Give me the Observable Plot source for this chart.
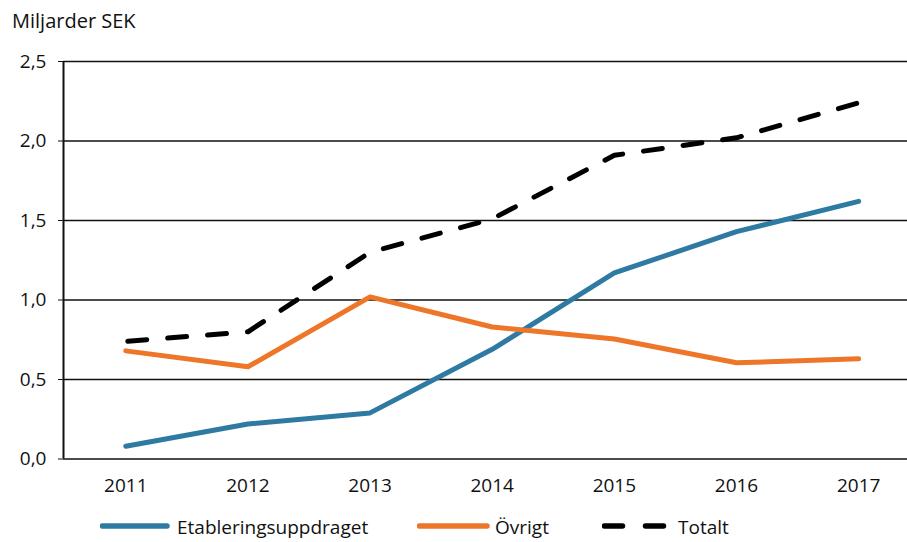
<!DOCTYPE html>
<html><head><meta charset="utf-8">
<script src="https://cdn.jsdelivr.net/npm/d3@7"></script>
<script src="https://cdn.jsdelivr.net/npm/@observablehq/plot@0.6"></script>
<style>
body{margin:0;background:#fff;font-family:"Open Sans",sans-serif;}
#wrap{position:relative;width:907px;height:542px;overflow:hidden;}
#title{height:45px;font-size:20px;color:#111;padding-left:12px;line-height:1;box-sizing:border-box;padding-top:11px;}
#legend{position:absolute;left:0;top:505px;width:907px;height:37px;font-size:19px;color:#111;}
.item{position:absolute;top:0;height:37px;}
.item svg{position:absolute;top:0;left:0;}
.item span{position:absolute;top:9px;white-space:nowrap;}
</style></head>
<body><div id="wrap"><div id="title">Miljarder SEK</div><div id="chart"></div><div id="legend"></div></div>
<script>
const years = [2011, 2012, 2013, 2014, 2015, 2016, 2017];
const etablering = [0.08, 0.22, 0.29, 0.69, 1.17, 1.43, 1.62];
const ovrigt = [0.68, 0.58, 1.02, 0.83, 0.755, 0.605, 0.63];
const totalt = [0.74, 0.80, 1.30, 1.51, 1.91, 2.02, 2.24];
const yTicks = [0, 0.5, 1.0, 1.5, 2.0, 2.5];
const seriesNames = ["Etableringsuppdraget", "Övrigt", "Totalt"];
const colors = ["#2e7aa3", "#ee7628", "#000000"];

const rows = (vals) => years.map((y, i) => ({year: y, value: vals[i]}));
const fmt = d => d.toFixed(1).replace(".", ",");

const chart = Plot.plot({
  width: 907, height: 460,
  marginTop: 16, marginBottom: 46.5, marginLeft: 63, marginRight: 0,
  style: {fontFamily: "'Open Sans', sans-serif", fontSize: "19px", color: "#111", background: "#fff"},
  x: {domain: [2010.49, 2017.4], axis: null},
  y: {domain: [0, 2.5], axis: null},
  marks: [
    Plot.ruleY(yTicks, {stroke: "#111", strokeWidth: 1.6}),
    Plot.ruleX([2010.49], {y1: 0, y2: 2.5, stroke: "#111", strokeWidth: 2}),
    Plot.axisY({ticks: yTicks, tickFormat: fmt, tickSize: 5, tickPadding: 12, tickStrokeWidth: 1.6, label: null, stroke: "#111", fontSize: 19}),
    Plot.axisX({ticks: years, tickFormat: d => String(d), tickSize: 0, tickPadding: 19, label: null, fontSize: 19}),
    Plot.line(rows(etablering), {x: "year", y: "value", stroke: colors[0], strokeWidth: 5, strokeLinecap: "round", strokeLinejoin: "round"}),
    Plot.line(rows(ovrigt), {x: "year", y: "value", stroke: colors[1], strokeWidth: 5, strokeLinecap: "round", strokeLinejoin: "round"}),
    Plot.line(rows(totalt), {x: "year", y: "value", stroke: colors[2], strokeWidth: 5, strokeLinecap: "round", strokeDasharray: "19,21", strokeDashoffset: -2})
  ]
});
document.getElementById("chart").appendChild(chart);

const legendPos = [{x: 100, w: 68, tx: 77}, {x: 417, w: 71, tx: 78}, {x: 602, w: 65, tx: 76}];
const leg = document.getElementById("legend");
seriesNames.forEach((name, i) => {
  const p = legendPos[i];
  const div = document.createElement("div");
  div.className = "item";
  div.style.left = p.x + "px";
  const dash = i === 2 ? ' stroke-dasharray="18,23"' : '';
  div.innerHTML = `<svg width="${p.w + 4}" height="37"><line x1="2.5" x2="${p.w - 1}" y1="21" y2="21" stroke="${colors[i]}" stroke-width="5.5" stroke-linecap="round"${dash}/></svg><span style="left:${p.tx}px">${name}</span>`;
  leg.appendChild(div);
});
</script></body></html>
